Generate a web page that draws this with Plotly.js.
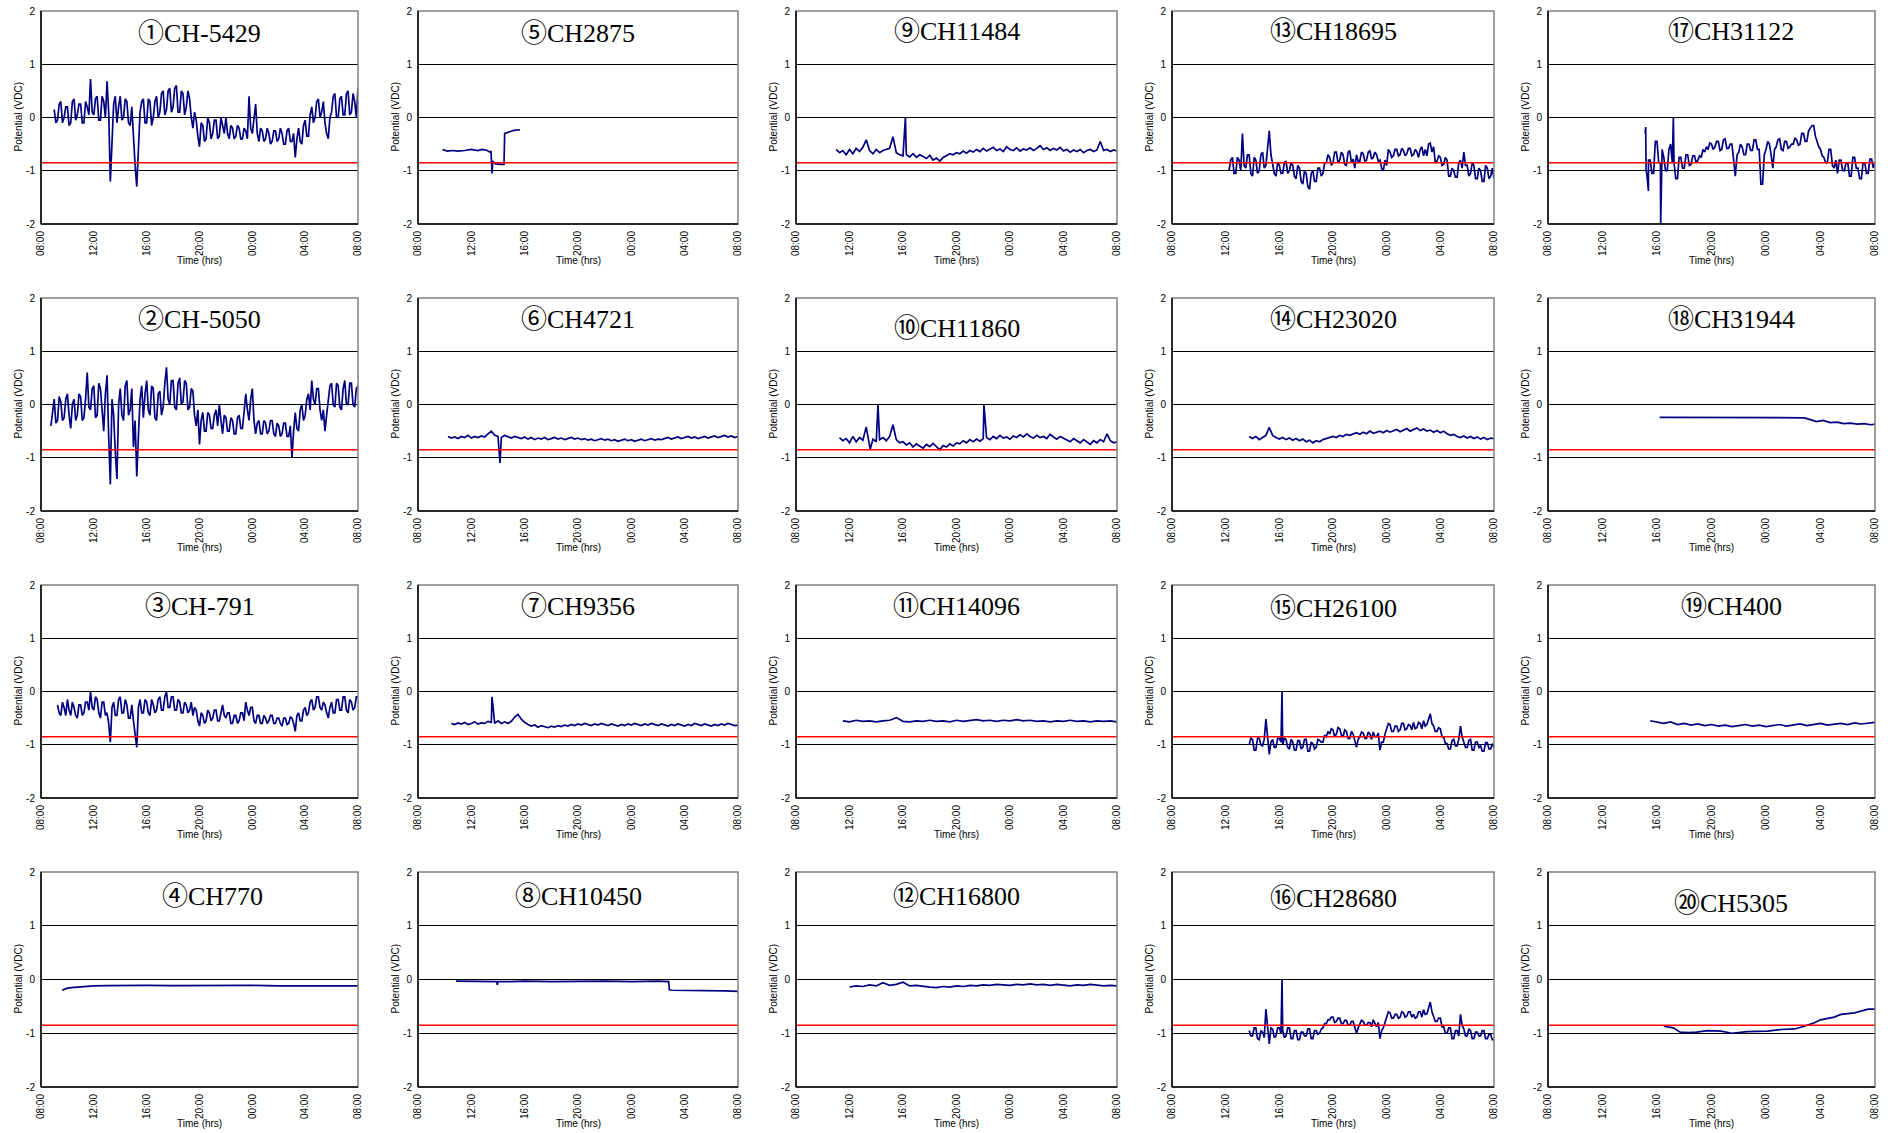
<!DOCTYPE html>
<html><head><meta charset="utf-8">
<script src="https://cdn.plot.ly/plotly-3.0.1.min.js"></script>
<style>html,body{margin:0;padding:0;background:#fff}#chart{width:1890px;height:1133px}</style>
</head><body><div id="chart"></div>
<script>
// ---------- tick labels / constants ----------
const hourTicks = [0, 4, 8, 12, 16, 20, 24];
const hourLabels = ['08:00', '12:00', '16:00', '20:00', '00:00', '04:00', '08:00'];
const potTicks = [-2, -1, 0, 1, 2];
const potLabels = ['-2', '-1', '0', '1', '2'];
const criterion = -0.85;
const titles = ['①CH-5429', '②CH-5050', '③CH-791', '④CH770',
                '⑤CH2875', '⑥CH4721', '⑦CH9356', '⑧CH10450',
                '⑨CH11484', '⑩CH11860', '⑪CH14096', '⑫CH16800',
                '⑬CH18695', '⑭CH23020', '⑮CH26100', '⑯CH28680',
                '⑰CH31122', '⑱CH31944', '⑲CH400', '⑳CH5305'];

// ---------- series (hours after 08:00, volts) ----------
const p01start = 1.0, p01step = 0.125;
const p01v = [
  0.15,-0.1,-0.05,0.25,0.3,-0.1,0.0,0.2,
  0.2,-0.15,-0.1,0.3,0.35,-0.05,0.05,0.25,
  0.25,-0.1,-0.1,0.3,0.2,0.05,0.72,0.1,
  0.05,0.35,0.4,-0.05,-0.05,0.4,0.3,0.0,
  0.68,0.1,-1.2,-0.6,0.25,0.4,-0.1,0.2,
  0.4,-0.05,0.0,0.35,0.3,-0.1,-0.15,0.2,
  -0.5,-0.9,-1.3,-0.4,0.1,0.3,0.35,-0.1,
  -0.1,0.35,0.3,-0.15,0.0,0.3,0.4,0.0,
  0.1,0.45,0.5,0.05,0.15,0.5,0.55,0.1,
  0.2,0.55,0.6,0.1,0.1,0.5,0.45,0.05,
  0.2,0.5,0.35,0.0,-0.2,0.1,-0.05,-0.35,
  -0.55,-0.1,-0.15,-0.45,-0.4,0.0,-0.1,-0.4,
  -0.3,-0.05,-0.05,-0.4,-0.35,0.0,-0.15,-0.3,
  0.0,-0.3,-0.4,-0.15,-0.2,-0.4,-0.35,-0.15,
  -0.2,-0.4,-0.4,-0.2,-0.25,-0.4,0.4,-0.2,
  -0.3,0.05,0.25,-0.3,-0.45,-0.2,-0.25,-0.45,
  -0.4,-0.2,-0.3,-0.5,-0.45,-0.25,-0.25,-0.45,
  -0.4,-0.2,-0.3,-0.5,-0.5,-0.25,-0.2,-0.45,
  -0.45,-0.3,-0.75,-0.4,-0.2,-0.45,-0.5,-0.15,
  -0.05,-0.35,-0.35,0.05,0.2,-0.1,0.0,0.3,
  0.35,0.0,0.1,0.3,-0.1,-0.3,-0.4,0.0,
  0.1,0.4,0.45,0.0,0.0,0.35,0.4,0.05,
  0.05,0.45,0.5,0.05,0.1,0.45,0.3,0.0,
  0.55];

const p02start = 0.75, p02step = 0.125;
const p02v = [-0.4,-0.1,
  0.1,-0.35,-0.3,0.15,0.05,-0.3,-0.25,0.1,
  0.2,-0.2,-0.45,0.0,0.1,-0.3,-0.2,0.2,
  0.15,-0.3,-0.25,0.1,0.6,-0.05,-0.1,0.3,
  0.35,-0.25,-0.2,0.4,0.3,-0.1,-0.5,0.2,
  0.55,-0.6,-1.5,0.1,-0.2,-0.9,-1.4,0.0,
  0.3,-0.2,-0.3,0.35,0.45,-0.2,-0.1,0.3,
  -0.8,-0.3,-1.35,-0.6,0.1,0.35,-0.25,0.2,
  0.45,-0.1,-0.2,0.35,0.3,-0.25,-0.3,0.2,
  0.25,-0.2,-0.05,0.4,0.7,0.1,0.0,0.45,
  0.45,-0.05,-0.1,0.4,0.5,0.0,0.05,0.45,
  0.4,-0.1,-0.05,0.3,0.25,-0.2,-0.4,-0.1,
  -0.75,-0.3,-0.15,-0.5,-0.5,-0.15,-0.2,-0.45,
  -0.45,-0.2,-0.1,-0.4,0.0,-0.3,-0.55,-0.2,
  -0.25,-0.5,-0.5,-0.25,-0.3,-0.55,-0.55,-0.25,
  -0.2,-0.45,-0.45,-0.15,0.2,-0.1,-0.3,0.1,
  0.3,-0.3,-0.55,-0.35,-0.3,-0.55,-0.55,-0.3,
  -0.35,-0.55,-0.5,-0.3,-0.3,-0.55,-0.6,-0.35,
  -0.4,-0.6,-0.55,-0.35,-0.35,-0.6,-0.6,-0.4,
  -1.0,-0.5,-0.15,-0.45,-0.5,-0.1,0.0,-0.3,
  -0.2,0.1,0.2,-0.1,0.45,0.1,0.0,0.3,
  0.3,-0.1,-0.3,-0.1,-0.5,-0.2,0.1,0.35,
  0.4,0.0,-0.05,0.4,0.35,-0.05,-0.1,0.3,
  0.45,0.0,0.0,0.4,0.4,0.0,-0.05,0.3,
  0.35];

const p03start = 1.25, p03step = 0.125;
const p03v = [-0.25,-0.4,-0.45,-0.2,-0.3,-0.45,
  -0.15,-0.35,-0.45,-0.2,-0.3,-0.45,-0.5,-0.25,
  -0.25,-0.45,-0.4,-0.2,-0.2,-0.35,0.0,-0.3,
  -0.35,-0.1,-0.15,-0.4,-0.5,-0.2,-0.2,-0.45,
  -0.4,-0.6,-0.95,-0.3,-0.2,-0.45,-0.45,-0.15,
  -0.1,-0.4,-0.4,-0.15,-0.25,-0.5,-0.5,-0.25,
  -0.55,-0.8,-1.05,-0.3,-0.15,-0.4,-0.4,-0.15,
  -0.2,-0.4,-0.45,-0.15,-0.25,-0.4,-0.35,-0.15,
  -0.1,-0.35,-0.35,-0.1,0.0,-0.3,-0.3,-0.1,
  -0.1,-0.35,-0.35,-0.15,-0.2,-0.4,-0.4,-0.2,
  -0.25,-0.4,-0.35,-0.2,-0.45,-0.3,-0.35,-0.55,
  -0.65,-0.4,-0.45,-0.6,-0.55,-0.35,-0.4,-0.55,
  -0.5,-0.35,-0.35,-0.55,-0.55,-0.4,-0.25,-0.45,
  -0.5,-0.4,-0.4,-0.6,-0.6,-0.45,-0.45,-0.6,
  -0.55,-0.4,-0.4,-0.55,-0.2,-0.35,-0.45,-0.3,
  -0.3,-0.55,-0.6,-0.45,-0.45,-0.6,-0.6,-0.45,
  -0.5,-0.6,-0.55,-0.45,-0.45,-0.6,-0.6,-0.5,
  -0.5,-0.6,-0.65,-0.5,-0.5,-0.62,-0.6,-0.48,
  -0.5,-0.6,-0.75,-0.45,-0.4,-0.55,-0.55,-0.35,
  -0.3,-0.45,-0.4,-0.2,-0.15,-0.35,-0.3,-0.1,
  -0.1,-0.3,-0.35,-0.2,-0.25,-0.4,-0.5,-0.3,
  -0.2,-0.4,-0.4,-0.15,-0.15,-0.35,-0.35,-0.1,
  -0.1,-0.35,-0.4,-0.15,-0.2,-0.35,-0.3,-0.1,
  -0.1];

const p04t = [1.6,1.8,2.0,2.3,2.7,3.2,4,5,6,8,10,12,14,16,18,20,22,24];
const p04v = [-0.2,-0.18,-0.16,-0.15,-0.14,-0.13,-0.12,-0.115,-0.11,-0.11,-0.115,-0.11,-0.115,-0.11,-0.12,-0.115,-0.12,-0.12];

const p05t = [1.83,2.2,2.6,3.0,3.5,4.0,4.5,4.8,5.2,5.4,5.47,5.5,5.56,5.6,5.8,6.2,6.45,6.5,6.8,7.2,7.65];
const p05v = [-0.6,-0.63,-0.62,-0.63,-0.62,-0.6,-0.62,-0.6,-0.62,-0.65,-0.63,-1.0,-1.05,-0.82,-0.87,-0.88,-0.88,-0.3,-0.27,-0.24,-0.23];

const p06start = 2.25, p06step = 0.25;
const p06v = [-0.6,-0.63,-0.61,-0.64,-0.6,-0.62,-0.58,-0.63,-0.6,-0.62,-0.59,-0.61,
  -0.55,-0.5,-0.58,-0.6,-0.62,-0.58,-0.6,-0.63,
  -0.6,-0.62,-0.64,-0.61,-0.65,-0.62,-0.66,-0.63,-0.65,-0.62,-0.66,-0.64,-0.62,-0.65,-0.63,-0.66,-0.64,-0.62,-0.65,-0.63,
  -0.66,-0.64,-0.67,-0.65,-0.68,-0.66,-0.64,-0.67,-0.65,-0.68,-0.66,-0.69,-0.67,-0.65,-0.68,-0.66,-0.69,-0.67,-0.65,-0.68,-0.66,-0.64,-0.67,-0.65,
  -0.66,-0.64,-0.62,-0.65,-0.63,-0.61,-0.64,-0.62,-0.6,-0.63,-0.61,-0.64,-0.62,-0.6,-0.63,-0.61,-0.59,-0.62,-0.6,-0.58,-0.61,-0.59,-0.62,-0.6];
const p06spikeT = [6.15], p06spikeV = [-1.1];

const p07start = 2.5, p07step = 0.25;
const p07v = [-0.6,-0.62,-0.59,-0.61,-0.58,-0.62,-0.6,-0.57,-0.61,-0.59,-0.6,-0.56,
  -0.58,-0.6,-0.55,-0.6,-0.57,-0.6,-0.56,
  -0.48,-0.43,-0.52,-0.58,
  -0.62,-0.65,-0.63,-0.67,-0.64,-0.66,-0.68,-0.65,-0.67,-0.64,-0.66,-0.63,-0.65,-0.62,-0.64,-0.61,
  -0.63,-0.6,-0.62,-0.64,-0.61,-0.63,-0.6,-0.62,-0.64,-0.61,-0.63,-0.65,-0.62,-0.64,-0.61,-0.63,-0.6,-0.62,-0.64,-0.61,-0.63,-0.6,-0.62,-0.64,
  -0.61,-0.63,-0.65,-0.62,-0.64,-0.61,-0.63,-0.65,-0.62,-0.64,-0.6,-0.62,-0.64,-0.61,-0.63,-0.65,-0.62,-0.64,-0.61,-0.63,-0.6,-0.62,-0.64,-0.63];
const p07spikeT = [5.55], p07spikeV = [-0.1];

const p08t = [2.85,3,4,5,5.9,5.95,6,7,8,10,12,14,16,18,18.8,18.85,19,20,21,22,23,24];
const p08v = [-0.03,-0.03,-0.04,-0.03,-0.04,-0.1,-0.04,-0.04,-0.03,-0.04,-0.03,-0.03,-0.04,-0.03,-0.04,-0.19,-0.2,-0.2,-0.21,-0.2,-0.21,-0.22];

const p09start = 3.0, p09step = 0.25;
const p09v = [-0.6,-0.66,-0.62,-0.7,-0.6,-0.68,-0.58,-0.64,-0.56, -0.42,
  -0.62,-0.68,-0.6,-0.66,-0.62,-0.6,-0.58, -0.36, -0.66,-0.7,-0.72,
  -0.7,-0.74,-0.68,-0.75,-0.7,-0.73,-0.77,-0.71, -0.8,-0.76,-0.82,-0.75,
  -0.72,-0.68,-0.7,-0.66,-0.68,-0.63,-0.67,-0.62,
  -0.65,-0.6,-0.64,-0.58,-0.63,-0.6,-0.56,-0.62,-0.59,-0.64,-0.55,-0.6,-0.62,-0.57,-0.63,-0.59,-0.61,-0.57,-0.62,-0.58,-0.53,-0.6,
  -0.57,-0.62,-0.58,-0.61,-0.56,-0.63,-0.6,-0.65,-0.61,-0.64,-0.6,-0.66,-0.62,-0.6,-0.64,-0.61,-0.45,-0.62,-0.6,-0.64,-0.61,-0.63];
const p09spikeT = [8.18], p09spikeV = [0.0];

const p10start = 3.25, p10step = 0.25;
const p10v = [-0.62,-0.68,-0.64,-0.72,-0.6,-0.7,-0.62,-0.67, -0.42, -0.8, -0.65,-0.7,
  -0.66,-0.62,-0.68,-0.6, -0.38, -0.66,-0.72,-0.7,
  -0.76,-0.72,-0.8,-0.74,-0.78,-0.82,-0.75,-0.79,-0.73,-0.8,-0.85,-0.77,-0.8,-0.74,-0.78,-0.72,
  -0.74,-0.68,-0.72,-0.66,-0.7,-0.65,-0.69,-0.64,
  -0.62,-0.66,-0.6,-0.64,-0.58,-0.63,-0.61,-0.65,-0.59,-0.62,-0.57,-0.61,-0.55,-0.6,-0.63,-0.58,-0.62,-0.6,-0.64,-0.56,-0.61,-0.65,-0.6,-0.63,
  -0.66,-0.7,-0.64,-0.68,-0.72,-0.66,-0.7,-0.75,-0.68,-0.72,-0.66,-0.7,-0.55,-0.68,-0.72,-0.7];
const p10spikeT = [5.55, 6.13, 14.05], p10spikeV = [-0.84, 0.0, 0.0];

const p11start = 3.5, p11step = 0.5;
const p11v = [-0.55,-0.57,-0.54,-0.56,-0.55,-0.57,-0.55,-0.54,-0.49,-0.56,
  -0.57,-0.55,-0.56,-0.54,-0.56,-0.55,-0.57,-0.54,-0.56,-0.55,
  -0.53,-0.55,-0.54,-0.56,-0.54,-0.55,-0.53,-0.55,-0.54,-0.56,
  -0.55,-0.57,-0.55,-0.56,-0.54,-0.56,-0.55,-0.57,-0.55,-0.56, -0.55,-0.57];

const p12start = 4.0, p12step = 0.5;
const p12v = [-0.14,-0.12,-0.13,-0.1,-0.12,-0.06,-0.11,-0.09,-0.05,-0.12,
  -0.11,-0.13,-0.14,-0.15,-0.13,-0.14,-0.12,-0.13,-0.11,-0.12,
  -0.1,-0.11,-0.09,-0.1,-0.11,-0.09,-0.1,-0.08,-0.1,-0.09,
  -0.11,-0.09,-0.1,-0.12,-0.1,-0.11,-0.09,-0.1,-0.12,-0.11, -0.12];

const p13start = 4.25, p13step = 0.125;
const p13v = [-1.0,-0.8,-0.75,-1.05,-1.05,-0.75,
  -0.8,-1.0,-0.3,-0.9,-0.95,-0.7,-0.7,-1.05,
  -1.1,-0.75,-0.8,-1.05,-1.0,-0.7,-0.65,-0.95,
  -0.9,-0.5,-0.25,-0.7,-0.85,-1.05,-1.1,-0.85,
  -0.9,-1.05,-1.05,-0.85,-0.82,-1.05,-1.0,-0.85,
  -0.9,-1.1,-1.15,-0.9,-0.95,-1.2,-1.25,-1.0,
  -1.05,-1.3,-1.35,-1.05,-1.0,-1.2,-1.2,-0.95,
  -0.95,-1.1,-1.05,-0.85,-0.85,-0.7,-0.75,-0.9,
  -0.85,-0.65,-0.65,-0.85,-0.8,-0.65,-0.7,-0.88,
  -0.9,-0.65,-0.62,-0.85,-0.78,-0.95,-0.7,-0.82,
  -0.82,-0.65,-0.68,-0.82,-0.8,-0.65,-0.62,-0.78,
  -0.75,-0.65,-0.7,-0.82,-0.8,-0.95,-1.0,-0.8,
  -0.9,-0.6,-0.65,-0.75,-0.72,-0.6,-0.6,-0.72,
  -0.7,-0.58,-0.62,-0.72,-0.68,-0.58,-0.58,-0.72,
  -0.7,-0.6,-0.64,-0.75,-0.6,-0.55,-0.72,-0.6,
  -0.72,-0.5,-0.48,-0.65,-0.55,-0.85,-0.82,-0.72,
  -0.75,-0.9,-0.88,-0.75,-0.8,-1.1,-1.1,-0.95,
  -1.0,-1.12,-1.12,-0.85,-0.8,-0.95,-0.65,-0.9,
  -0.9,-1.1,-1.05,-0.85,-0.9,-1.15,-1.15,-0.95,
  -1.0,-1.2,-1.2,-0.9,-0.95,-1.15,-1.1,-0.95,
  -1.15];

const p14start = 5.75, p14step = 0.25;
const p14v = [-0.6,-0.64,-0.6,-0.66,-0.62,-0.58, -0.43,
  -0.58,-0.62,-0.65,-0.62,-0.66,-0.63,-0.67,-0.64,-0.68,-0.65, -0.7,-0.67,-0.72,-0.68,-0.7,
  -0.66,-0.64,-0.62,-0.6,-0.62,-0.58,-0.6,-0.56,-0.58,
  -0.55,-0.53,-0.56,-0.52,-0.55,-0.5,-0.54,-0.52,-0.5,-0.53,-0.49,-0.52,-0.5,-0.47,-0.51,-0.48,-0.45,-0.5,-0.47,-0.44,-0.49,-0.46,-0.5,-0.48,-0.52,-0.49,-0.53,-0.5,
  -0.55,-0.58,-0.56,-0.6,-0.62,-0.59,-0.63,-0.6,-0.64,-0.61,-0.65,-0.62,-0.66,-0.63,-0.64];

const p15start = 5.75, p15step = 0.125;
const p15v = [-1.0,-0.88,
  -0.9,-1.1,-1.1,-0.88,-0.88,-1.0,-1.02,-0.9,
  -0.52,-0.8,-1.18,-0.95,-0.9,-1.05,-1.05,-0.88,
  -0.88,-0.95,-1.0,-0.88,-0.9,-1.05,-1.08,-0.9,
  -0.95,-1.1,-1.1,-0.92,-0.92,-1.08,-1.05,-0.9,
  -0.9,-1.12,-1.12,-0.95,-0.98,-1.08,-1.05,-0.9,
  -0.92,-0.95,-0.95,-0.82,-0.85,-0.75,-0.8,-0.7,
  -0.72,-0.85,-0.8,-0.68,-0.7,-0.82,-0.85,-0.72,
  -0.75,-0.88,-0.88,-0.75,-0.8,-0.92,-1.05,-0.9,
  -0.85,-0.76,-0.78,-0.88,-0.88,-0.76,-0.8,-0.9,
  -0.76,-0.85,-0.85,-0.78,-1.1,-0.95,-0.95,-0.8,
  -0.7,-0.6,-0.62,-0.75,-0.75,-0.65,-0.65,-0.75,
  -0.72,-0.6,-0.6,-0.72,-0.7,-0.62,-0.64,-0.72,
  -0.58,-0.7,-0.68,-0.58,-0.6,-0.7,-0.55,-0.65,
  -0.62,-0.5,-0.42,-0.6,-0.65,-0.75,-0.75,-0.68,
  -0.7,-0.85,-0.85,-0.98,-0.98,-1.08,-1.08,-0.92,
  -0.9,-1.02,-1.02,-0.9,-0.65,-0.85,-0.95,-1.05,
  -1.05,-0.92,-0.9,-1.1,-1.1,-0.95,-0.95,-1.05,
  -1.02,-1.12,-1.12,-0.96,-0.96,-1.08,-1.08,-0.98,
  -1.05];
const p15spikeT = [8.2], p15spikeV = [0.0];

const p16start = 5.75, p16step = 0.125;
const p16v = [-0.95,-1.05,
  -1.05,-0.9,-0.9,-1.1,-1.12,-0.95,-0.98,-1.08,
  -0.55,-0.85,-1.2,-0.9,-0.92,-1.08,-1.05,-0.9,
  -0.9,-1.0,-0.95,-1.08,-1.05,-0.9,-0.9,-1.1,
  -1.1,-0.95,-0.95,-1.12,-1.12,-0.98,-0.98,-1.05,
  -1.05,-0.92,-0.92,-1.1,-1.1,-0.95,-0.95,-1.02,
  -1.0,-0.92,-0.9,-0.82,-0.82,-0.75,-0.75,-0.7,
  -0.7,-0.8,-0.78,-0.72,-0.72,-0.82,-0.82,-0.76,
  -0.76,-0.85,-0.85,-0.78,-0.78,-0.9,-1.0,-0.9,
  -0.82,-0.76,-0.78,-0.85,-0.85,-0.8,-0.8,-0.88,
  -0.75,-0.82,-0.88,-0.8,-1.1,-0.95,-0.9,-0.8,
  -0.68,-0.6,-0.62,-0.72,-0.72,-0.65,-0.65,-0.72,
  -0.7,-0.6,-0.62,-0.7,-0.68,-0.6,-0.6,-0.7,
  -0.65,-0.72,-0.7,-0.6,-0.6,-0.7,-0.56,-0.65,
  -0.64,-0.5,-0.42,-0.6,-0.68,-0.78,-0.78,-0.72,
  -0.72,-0.88,-0.88,-1.0,-1.0,-0.9,-0.9,-1.1,
  -1.1,-0.95,-0.95,-1.05,-0.65,-0.85,-0.92,-1.05,
  -1.05,-0.92,-0.95,-1.1,-1.1,-0.98,-0.98,-1.05,
  -1.05,-0.95,-0.95,-1.1,-1.1,-1.02,-1.02,-1.12,
  -1.12];
const p16spikeT = [8.2], p16spikeV = [0.0];

const p17start = 7.25, p17step = 0.125;
const p17v = [-1.05,-0.8,-0.8,-1.05,-1.05,-0.45,
  -0.45,-0.85,-0.85,-0.6,-0.75,-1.0,-1.0,-0.6,
  -0.5,-0.85,-0.85,-1.15,-1.15,-0.75,-0.75,-0.95,
  -0.95,-0.7,-0.7,-0.9,-0.88,-0.72,-0.72,-0.85,
  -0.8,-0.72,-0.75,-0.6,-0.65,-0.55,-0.6,-0.48,
  -0.5,-0.6,-0.55,-0.45,-0.45,-0.62,-0.6,-0.42,
  -0.4,-0.58,-0.58,-0.5,-0.5,-0.75,-1.1,-0.7,
  -0.65,-0.5,-0.55,-0.7,-0.7,-0.5,-0.5,-0.62,
  -0.62,-0.42,-0.42,-0.6,-0.6,-1.25,-1.25,-0.7,
  -0.6,-0.45,-0.5,-0.7,-0.95,-0.6,-0.55,-0.42,
  -0.4,-0.6,-0.62,-0.45,-0.45,-0.58,-0.55,-0.5,
  -0.5,-0.38,-0.42,-0.52,-0.5,-0.3,-0.3,-0.45,
  -0.45,-0.25,-0.2,-0.15,-0.15,-0.35,-0.45,-0.55,
  -0.6,-0.72,-0.75,-0.85,-0.85,-0.6,-0.6,-0.9,
  -0.95,-0.8,-1.05,-0.8,-0.8,-1.0,-1.0,-0.85,
  -0.85,-1.1,-1.1,-0.75,-0.75,-0.95,-0.95,-1.15,
  -1.15,-0.85,-0.85,-1.05,-1.05,-0.78,-0.78,-0.95,
  -0.85];
const p17spikeT = [7.13, 7.17, 7.2, 7.37, 8.27, 9.2], p17spikeV = [-0.3, -0.18, -1.0, -1.38, -2.0, 0.0];

const p18t = [8.2,10,12,14,16,18,18.8,19.2,19.7,20.2,20.7,21.2,21.7,22.2,22.7,23.2,23.7,24];
const p18v = [-0.24,-0.24,-0.245,-0.24,-0.24,-0.245,-0.25,-0.28,-0.32,-0.3,-0.34,-0.33,-0.36,-0.35,-0.37,-0.36,-0.38,-0.37];

const p19start = 7.5, p19step = 0.5;
const p19v = [-0.55,-0.58,-0.6,-0.57,-0.62,-0.6,-0.63,-0.61,-0.64,-0.62,
  -0.65,-0.63,-0.66,-0.64,-0.62,-0.65,-0.63,-0.66,-0.64,-0.62,
  -0.65,-0.63,-0.61,-0.64,-0.62,-0.6,-0.63,-0.61,-0.6,-0.62, -0.59,-0.61,-0.6,-0.58];

const p20t = [8.5,9.2,9.7,10.3,10.9,11.7,12.7,13.5,14.6,15.4,16.1,17.1,18.1,18.8,19.6,20.0,21.0,21.5,22.5,23.5,24];
const p20v = [-0.87,-0.9,-0.98,-0.99,-0.98,-0.95,-0.96,-1.0,-0.97,-0.97,-0.96,-0.93,-0.92,-0.87,-0.8,-0.75,-0.7,-0.65,-0.62,-0.55,-0.55];

// ---------- assemble ----------
function sampled(start, step, vals, spT, spV) {
  const pts = vals.map((v, i) => [start + i * step, v]);
  if (spT) spT.forEach((t, i) => pts.push([t, spV[i]]));
  pts.sort((a, b) => a[0] - b[0]);
  return { x: pts.map(p => p[0]), y: pts.map(p => p[1]) };
}
const series = [
  sampled(p01start, p01step, p01v),
  sampled(p02start, p02step, p02v),
  sampled(p03start, p03step, p03v),
  { x: p04t, y: p04v },
  { x: p05t, y: p05v },
  sampled(p06start, p06step, p06v, p06spikeT, p06spikeV),
  sampled(p07start, p07step, p07v, p07spikeT, p07spikeV),
  { x: p08t, y: p08v },
  sampled(p09start, p09step, p09v, p09spikeT, p09spikeV),
  sampled(p10start, p10step, p10v, p10spikeT, p10spikeV),
  sampled(p11start, p11step, p11v),
  sampled(p12start, p12step, p12v),
  sampled(p13start, p13step, p13v),
  sampled(p14start, p14step, p14v),
  sampled(p15start, p15step, p15v, p15spikeT, p15spikeV),
  sampled(p16start, p16step, p16v, p16spikeT, p16spikeV),
  sampled(p17start, p17step, p17v, p17spikeT, p17spikeV),
  { x: p18t, y: p18v },
  sampled(p19start, p19step, p19v),
  { x: p20t, y: p20v }
];

// ---------- layout geometry (pixels) ----------
const W = 1890, H = 1133;
const colPx = [[41, 358], [418, 738], [796, 1117], [1172, 1494], [1548, 1875]];
const rowPx = [[11, 224], [298, 511], [585, 798], [872, 1087]];
const titleXpos = [0.5,0.5,0.5,0.54, 0.5,0.5,0.5,0.5, 0.5,0.5,0.5,0.5, 0.5,0.5,0.5,0.5, 0.56,0.56,0.56,0.56];
const titleYpos = [1.58,1.6,1.59,1.55, 1.58,1.6,1.59,1.55, 1.61,1.43,1.59,1.55, 1.62,1.6,1.55,1.51, 1.62,1.6,1.59,1.42];

const sansFont = "'Liberation Sans', Arial, sans-serif";
const serifFont = "'Liberation Serif', 'Noto Sans CJK JP', serif";

const traces = [];
const layout = {
  width: W, height: H,
  margin: { l: 0, r: 0, t: 0, b: 0 },
  paper_bgcolor: '#ffffff', plot_bgcolor: '#ffffff',
  showlegend: false, hovermode: false,
  font: { family: sansFont, color: '#000' },
  shapes: [], annotations: []
};

for (let p = 0; p < 20; p++) {
  const c = Math.floor(p / 4), r = p % 4;
  const s = p === 0 ? '' : String(p + 1);
  const xa = 'x' + s, ya = 'y' + s;
  traces.push({ x: series[p].x, y: series[p].y, xaxis: xa, yaxis: ya, type: 'scatter', mode: 'lines',
    line: { color: '#000080', width: 1.7 }, hoverinfo: 'skip' });
  traces.push({ x: [hourTicks[0], hourTicks[hourTicks.length - 1]], y: [criterion, criterion], xaxis: xa, yaxis: ya,
    type: 'scatter', mode: 'lines', line: { color: '#ff0000', width: 1.5 }, hoverinfo: 'skip' });

  layout['xaxis' + s] = {
    domain: [colPx[c][0] / W, colPx[c][1] / W], anchor: ya, range: [0, 24],
    tickmode: 'array', tickvals: hourTicks, ticktext: hourLabels, tickangle: -90,
    tickfont: { family: sansFont, size: 10, color: '#000' },
    showgrid: false, zeroline: false, showline: false, ticks: '', fixedrange: true, ticklabelstandoff: 4
  };
  layout['yaxis' + s] = {
    domain: [1 - rowPx[r][1] / H, 1 - rowPx[r][0] / H], anchor: xa, range: [-2, 2],
    tickmode: 'array', tickvals: potTicks, ticktext: potLabels,
    tickfont: { family: sansFont, size: 10, color: '#000' },
    showgrid: true, gridcolor: '#000000', gridwidth: 1, zeroline: false, showline: false, ticks: '',
    fixedrange: true, ticklabelstandoff: 5
  };
  const xd = xa + ' domain', yd = ya + ' domain';
  layout.shapes.push({ type: 'rect', xref: xd, yref: yd, x0: 0, x1: 1, y0: 0, y1: 1,
    line: { color: '#808080', width: 1.5 }, layer: 'above' });
  layout.shapes.push({ type: 'line', xref: xd, yref: yd, x0: 0, x1: 0, y0: 0, y1: 1,
    line: { color: '#000000', width: 1.5 }, layer: 'above' });
  layout.shapes.push({ type: 'line', xref: xd, yref: yd, x0: 0, x1: 1, y0: 0, y1: 0,
    line: { color: '#000000', width: 1.5 }, layer: 'above' });

  layout.annotations.push({ text: titles[p], xref: xd, yref: ya, x: titleXpos[p], y: titleYpos[p],
    xanchor: 'center', yanchor: 'middle', showarrow: false,
    font: { family: serifFont, size: 26, color: '#000' } });
  layout.annotations.push({ text: 'Potential (VDC)', xref: xd, yref: yd, x: 0, y: 0.5, xshift: -23,
    xanchor: 'center', yanchor: 'middle', textangle: -90, showarrow: false,
    font: { family: sansFont, size: 10, color: '#000' } });
  layout.annotations.push({ text: 'Time (hrs)', xref: xd, yref: yd, x: 0.5, y: 0, yshift: -36,
    xanchor: 'center', yanchor: 'middle', showarrow: false,
    font: { family: sansFont, size: 10, color: '#000' } });
}

Plotly.newPlot('chart', traces, layout, { displayModeBar: false, staticPlot: true });
</script>
</body></html>
